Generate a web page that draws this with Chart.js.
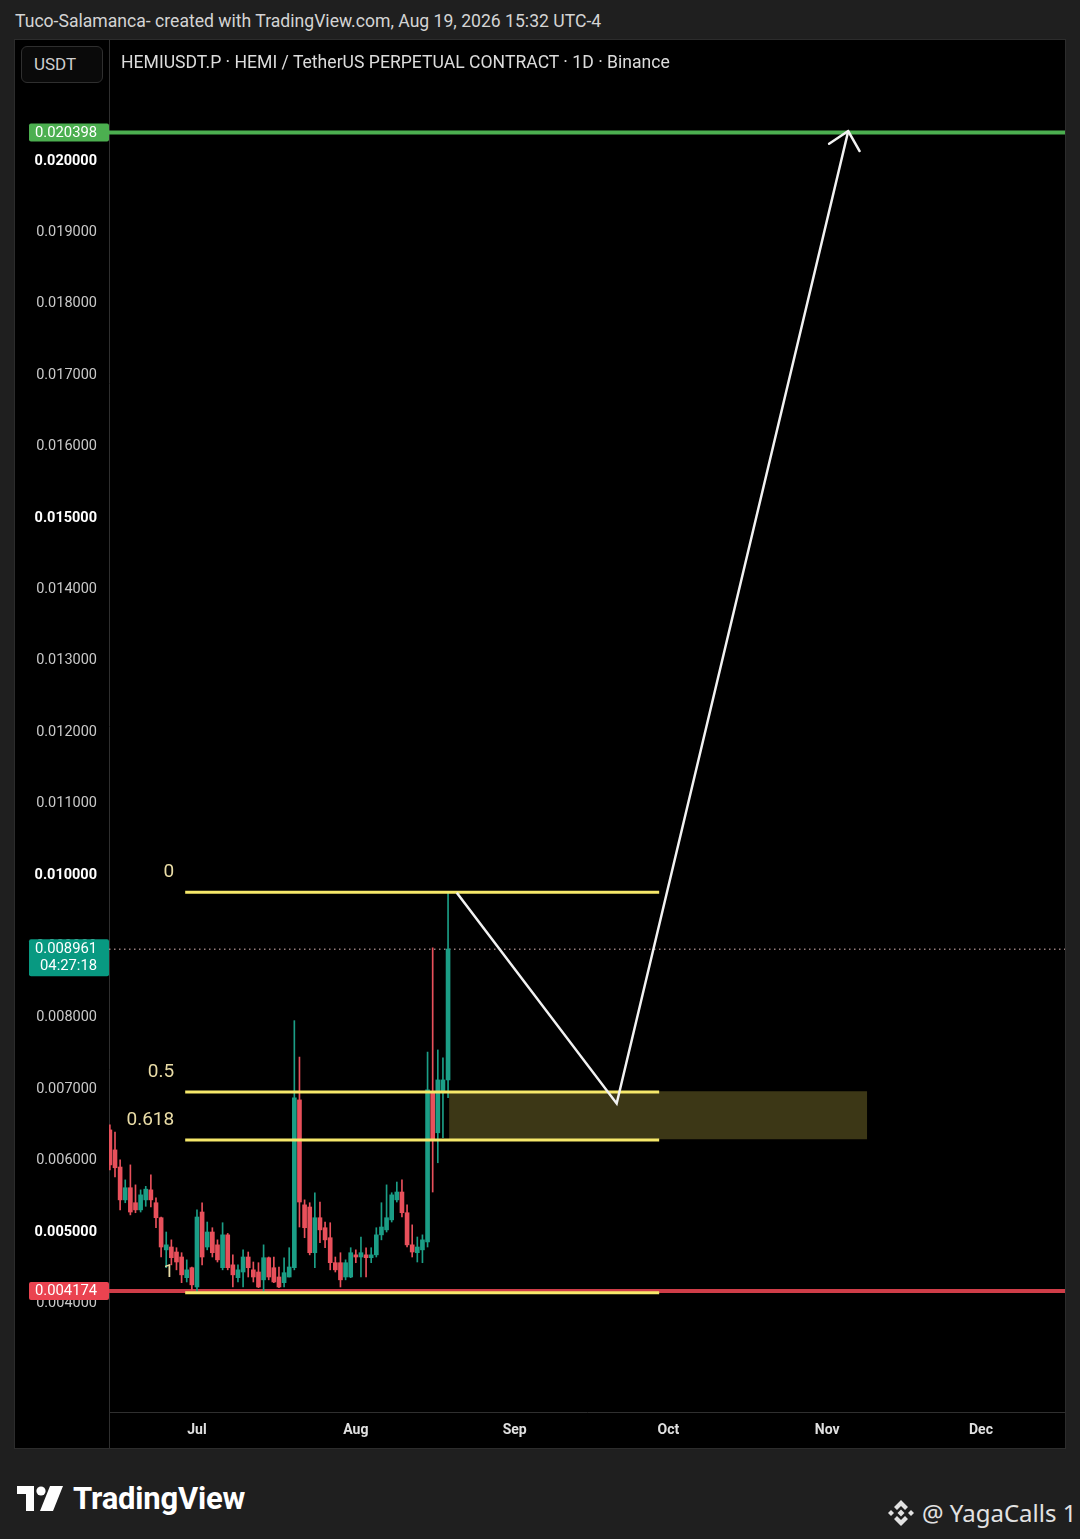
<!DOCTYPE html>
<html>
<head>
<meta charset="utf-8">
<script src="https://cdn.jsdelivr.net/npm/chart.js@4.4.1/dist/chart.umd.min.js"></script>
<style>
  html, body { margin: 0; padding: 0; }
  body { width: 1080px; height: 1539px; background: #1f1f1f; position: relative; overflow: hidden; font-family: Roboto, sans-serif; }
  .header { position: absolute; left: 15px; top: 11px; font-size: 17.6px; color: #d4d4d4; white-space: nowrap; }
  .panel { position: absolute; left: 15px; top: 40px; width: 1050px; height: 1408px; background: #000; box-shadow: 0 0 0 1px #2c2c2c; }
  .usdt { position: absolute; left: 6px; top: 6px; width: 82px; height: 37px; box-sizing: border-box; border: 1px solid #2f2f2f; border-radius: 6px; background: #0a0a0a; color: #cfcfcf; font-size: 17px; line-height: 35px; padding-left: 12px; z-index: 2; }
  .title { position: absolute; left: 106px; top: 12px; font-size: 17.6px; color: #dcdcdc; white-space: nowrap; z-index: 2; }
  .logo { position: absolute; left: 17px; top: 1480px; display: flex; align-items: center; color: #fff; font-weight: bold; font-size: 31px; letter-spacing: -0.2px; }
  .logo svg { margin-right: 10px; }
  .credit { position: absolute; left: 886px; top: 1496px; display: flex; align-items: center; color: #e2e2e2; font-family: "Noto Sans", sans-serif; font-size: 24px; white-space: nowrap; }
  .credit svg { margin-right: 6px; }
</style>
</head>
<body>
<div class="header">Tuco-Salamanca- created with TradingView.com, Aug 19, 2026 15:32 UTC-4</div>
<div class="panel">
  <div class="usdt">USDT</div>
  <div class="title">HEMIUSDT.P · HEMI / TetherUS PERPETUAL CONTRACT · 1D · Binance</div>
  <canvas id="chart"></canvas>
</div>
<div class="logo">
  <svg width="46" height="25" viewBox="0 0 46 25"><path d="M0 0H17V25H9V8H0Z" fill="#fff"/><circle cx="24" cy="5" r="4.6" fill="#fff"/><path d="M33 0H46L36 25H23Z" fill="#fff"/></svg>
  TradingView
</div>
<div class="credit">
  <svg width="30" height="30" viewBox="0 0 30 30" fill="#e2e2e2"><polygon points="15,2 22,9 19,12 15,8 11,12 8,9"/><polygon points="15,28 22,21 19,18 15,22 11,18 8,21"/><polygon points="2,15 5,12 8,15 5,18"/><polygon points="22,15 25,12 28,15 25,18"/><polygon points="15,11.5 18.5,15 15,18.5 11.5,15"/></svg>
  @ YagaCalls 1
</div>
<script>
// x = days counted from Jul 1 (negative = June)
const firstDay = -17;
const opens  = [0.00643,0.00615,0.00591,0.00545,0.00562,0.00541,0.00531,0.00545,0.00559,0.00541,0.00520,0.00475,0.00479,0.00472,0.00465,0.00436,0.00450,
                0.00423,0.00528,0.00479,0.00500,0.00482,0.00450,0.00496,0.00454,0.00436,0.00444,0.00465,0.00447,0.00444,0.00433,0.00464,0.00450,0.00437,0.00429,0.00437,0.00450,0.00685,0.00538,0.00535,0.00471,0.00520,0.00506,0.00492,0.00457,0.00457,0.00437,0.00437,
                0.00468,0.00465,0.00468,0.00464,0.00468,0.00496,0.00503,0.00517,0.00545,0.00556,0.00527,0.00482,0.00471,0.00475,0.00486,0.00695,0.00639,0.00695,0.00713];
const highs  = [0.00650,0.00640,0.00601,0.00573,0.00594,0.00566,0.00559,0.00564,0.00580,0.00548,0.00521,0.00500,0.00489,0.00478,0.00471,0.00461,0.00451,
                0.00531,0.00541,0.00514,0.00506,0.00489,0.00513,0.00498,0.00468,0.00454,0.00475,0.00472,0.00458,0.00457,0.00482,0.00465,0.00465,0.00451,0.00464,0.00478,0.00796,0.00745,0.00545,0.00541,0.00555,0.00542,0.00514,0.00513,0.00465,0.00471,0.00461,0.00478,
                0.00475,0.00493,0.00478,0.00478,0.00506,0.00541,0.00566,0.00555,0.00570,0.00573,0.00538,0.00510,0.00493,0.00496,0.00752,0.00898,0.00755,0.00744,0.00975];
const lows   = [0.00587,0.00577,0.00531,0.00541,0.00524,0.00527,0.00528,0.00536,0.00535,0.00506,0.00465,0.00450,0.00454,0.00447,0.00429,0.00430,0.00419,
                0.00415,0.00454,0.00475,0.00465,0.00458,0.00447,0.00447,0.00423,0.00430,0.00423,0.00437,0.00430,0.00422,0.00416,0.00433,0.00429,0.00422,0.00423,0.00437,0.00447,0.00507,0.00492,0.00468,0.00450,0.00485,0.00478,0.00447,0.00444,0.00423,0.00433,0.00436,
                0.00457,0.00437,0.00437,0.00457,0.00465,0.00489,0.00500,0.00514,0.00542,0.00521,0.00479,0.00465,0.00458,0.00457,0.00479,0.00556,0.00597,0.00632,0.00688];
const closes = [0.00594,0.00590,0.00545,0.00562,0.00528,0.00531,0.00552,0.00560,0.00545,0.00520,0.00479,0.00482,0.00464,0.00458,0.00440,0.00447,0.00426,
                0.00521,0.00465,0.00500,0.00471,0.00461,0.00496,0.00450,0.00440,0.00447,0.00465,0.00450,0.00437,0.00423,0.00464,0.00437,0.00430,0.00423,0.00443,0.00451,0.00688,0.00542,0.00506,0.00471,0.00520,0.00503,0.00489,0.00457,0.00447,0.00433,0.00457,0.00471,
                0.00465,0.00471,0.00464,0.00468,0.00496,0.00507,0.00520,0.00552,0.00556,0.00527,0.00482,0.00472,0.00479,0.00489,0.00699,0.00629,0.00713,0.00713,0.008961];

const monthTicks  = [0, 31, 62, 92, 123, 153];
const monthLabels = ['Jul', 'Aug', 'Sep', 'Oct', 'Nov', 'Dec'];
const priceTicks  = [0.004,0.005,0.006,0.007,0.008,0.009,0.010,0.011,0.012,0.013,0.014,0.015,0.016,0.017,0.018,0.019,0.020];

const fibLabels = ['0', '0.5', '0.618', '1'];
const fibPrices = [0.00976, 0.00696, 0.00629, 0.00415];
const fibStartDay = -2.3;
const fibEndDay = 90.2;

const zoneDays = [49.2, 130.8];
const zoneTop = 0.00697;
const zoneBottom = 0.00630;

const arrowDays   = [50.7, 81.9, 127.1];
const arrowPrices = [0.00975, 0.00680, 0.02042];

const targetPrice = 0.020398;
const lastPrice = 0.008961;
const supportPrice = 0.004174;
const countdown = '04:27:18';

const xMin = -17.17, xMax = 169.4;
const yMin = 0.002479, yMax = 0.021695;

const upColor = '#1b9e86';
const downColor = '#e8505b';

const candleColors = opens.map((o, i) => closes[i] >= o ? upColor : downColor);
const wickData = lows.map((l, i) => ({ x: firstDay + i, y: [l, highs[i]] }));
const bodyData = opens.map((o, i) => ({ x: firstDay + i, y: [o, closes[i]] }));

function hLine(price) {
  return [{ x: xMin, y: price }, { x: xMax, y: price }];
}

const datasets = [
  { type: 'line', data: zoneDays.map(d => ({ x: d, y: zoneBottom })), borderWidth: 0, pointRadius: 0,
    fill: { value: zoneTop }, backgroundColor: '#3c3716', order: 20 },
  { type: 'line', data: hLine(targetPrice), borderColor: '#4caf50', borderWidth: 4, pointRadius: 0, order: 15 },
  { type: 'line', data: hLine(supportPrice), borderColor: '#cf3d48', borderWidth: 4, pointRadius: 0, order: 15 },
  { type: 'line', data: hLine(lastPrice), borderColor: 'rgba(200,165,165,0.75)', borderWidth: 1.5, borderDash: [1.5, 3.5], pointRadius: 0, order: 14 },
  { type: 'bar', data: wickData, backgroundColor: candleColors, barThickness: 1, grouped: false, order: 10 },
  { type: 'bar', data: bodyData, backgroundColor: candleColors, barThickness: 4, grouped: false, minBarLength: 1, order: 9 }
];
fibPrices.forEach(p => {
  datasets.push({ type: 'line', data: [{ x: fibStartDay, y: p }, { x: fibEndDay, y: p }],
    borderColor: '#f6e86a', borderWidth: 3, pointRadius: 0, order: 5 });
});
const arrowIndex = datasets.length;
datasets.push({ type: 'line', data: arrowDays.map((d, i) => ({ x: d, y: arrowPrices[i] })),
  borderColor: '#f2f2f2', borderWidth: 2.5, pointRadius: 0, tension: 0, order: 1 });

const overlays = {
  id: 'overlays',
  afterDatasetsDraw(chart) {
    const { ctx, scales: { x, y } } = chart;
    // arrow head
    const pts = chart.getDatasetMeta(arrowIndex).data;
    const a = pts[pts.length - 2], b = pts[pts.length - 1];
    const ang = Math.atan2(b.y - a.y, b.x - a.x);
    ctx.save();
    ctx.strokeStyle = '#f2f2f2';
    ctx.lineWidth = 2.5;
    ctx.lineCap = 'round';
    ctx.beginPath();
    [-1, 1].forEach(s => {
      ctx.moveTo(b.x, b.y);
      ctx.lineTo(b.x - 23 * Math.cos(ang + s * 0.75), b.y - 23 * Math.sin(ang + s * 0.75));
    });
    ctx.stroke();
    // fib labels
    ctx.fillStyle = '#e9dca6';
    ctx.font = '19px Roboto';
    ctx.textAlign = 'right';
    ctx.textBaseline = 'middle';
    fibLabels.forEach((t, i) => {
      ctx.fillText(t, x.getPixelForValue(fibStartDay) - 11, y.getPixelForValue(fibPrices[i]) - 20);
    });
    ctx.restore();
  },
  afterDraw(chart) {
    const { ctx, chartArea, scales: { y } } = chart;
    ctx.save();
    // axis separator continues into the time row
    ctx.strokeStyle = '#2f2f2f';
    ctx.lineWidth = 1;
    ctx.beginPath();
    ctx.moveTo(chartArea.left + 0.5, chartArea.bottom);
    ctx.lineTo(chartArea.left + 0.5, chart.height);
    ctx.stroke();
    // price badges on the axis
    const left = 14, w = chartArea.left - 14;
    ctx.font = '14.8px Roboto';
    ctx.textAlign = 'left';
    ctx.textBaseline = 'middle';
    const badge = (price, color, extra) => {
      const py = y.getPixelForValue(price);
      const top = extra ? py - 10 : py - 9;
      const h = extra ? 37 : 18;
      ctx.fillStyle = color;
      ctx.beginPath();
      ctx.roundRect(left, top, w, h, 2);
      ctx.fill();
      ctx.fillStyle = '#ffffff';
      ctx.fillText(price.toFixed(6), left + 6, py + 0.5);
      if (extra) ctx.fillText(extra, left + 11, py + 17.5);
    };
    badge(targetPrice, '#4caf50');
    badge(lastPrice, '#089981', countdown);
    badge(supportPrice, '#ea4350');
    ctx.restore();
  }
};

const isMajor = v => Math.round(v * 1000) % 5 === 0;
const tickMajor = c => !!(c && c.tick) && isMajor(c.tick.value);
const noPadding = s => { s.paddingTop = 0; s.paddingBottom = 0; s.paddingLeft = 0; s.paddingRight = 0; };

new Chart(document.getElementById('chart'), {
  type: 'bar',
  data: { datasets },
  options: {
    responsive: true,
    maintainAspectRatio: false,
    animation: false,
    layout: { padding: 0, autoPadding: false },
    plugins: { legend: { display: false }, tooltip: { enabled: false } },
    scales: {
      x: {
        type: 'linear', min: xMin, max: xMax, offset: false,
        grid: { display: false, drawTicks: false },
        border: { display: true, color: '#2f2f2f' },
        afterBuildTicks: s => { s.ticks = monthTicks.map(v => ({ value: v })); },
        afterFit: s => { s.height = 36; noPadding(s); },
        ticks: {
          autoSkip: false, maxRotation: 0, padding: 10, color: '#e0e0e0',
          font: { family: 'Roboto', size: 14, weight: 'bold' },
          callback: v => monthLabels[monthTicks.indexOf(v)]
        }
      },
      y: {
        type: 'linear', position: 'left', min: yMin, max: yMax,
        grid: { display: false, drawTicks: false },
        border: { display: true, color: '#2f2f2f' },
        afterBuildTicks: s => { s.ticks = priceTicks.map(v => ({ value: v })); },
        afterFit: s => { s.width = 94; noPadding(s); },
        ticks: {
          padding: 12,
          color: c => tickMajor(c) ? '#ffffff' : '#c9c9c9',
          font: c => ({ family: 'Roboto', size: 14.5, weight: tickMajor(c) ? 'bold' : 'normal' }),
          callback: v => v.toFixed(6)
        }
      }
    }
  },
  plugins: [overlays]
});
</script>
</body>
</html>
